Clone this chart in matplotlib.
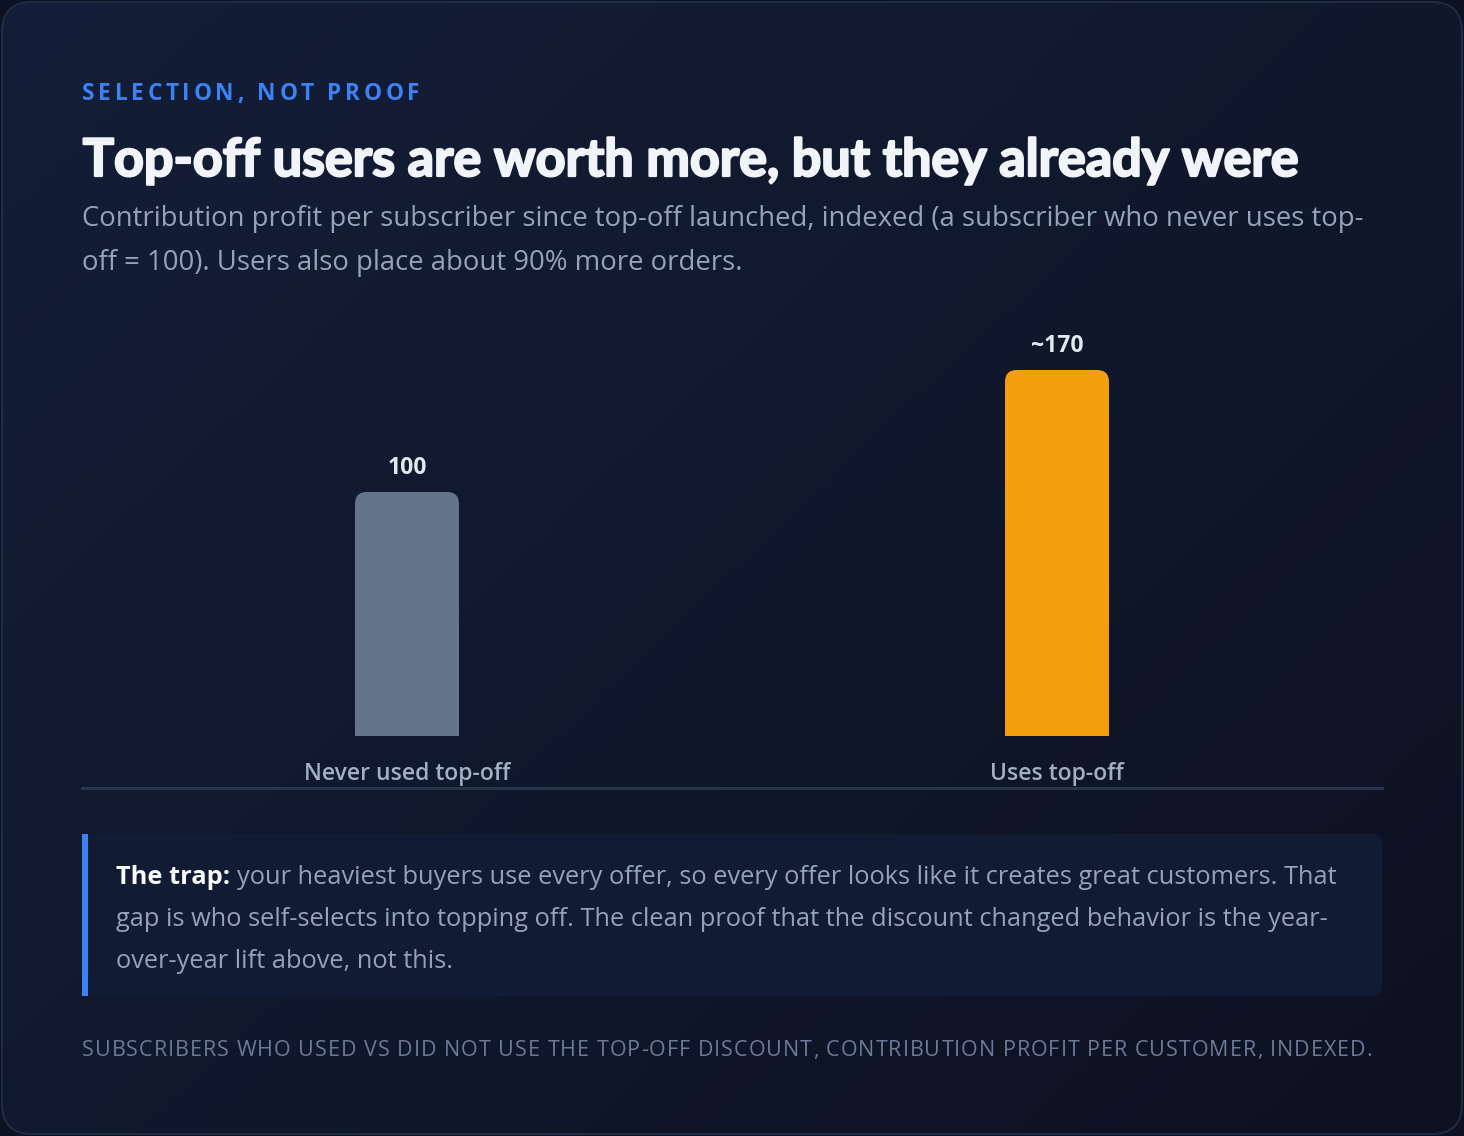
import numpy as np
import matplotlib
matplotlib.use("Agg")
import matplotlib.pyplot as plt
import matplotlib.patheffects as pe
from matplotlib.patches import FancyBboxPatch, Rectangle, PathPatch
from matplotlib.path import Path
from matplotlib.lines import Line2D

W, H = 1464, 1136

# data
categories = ["Never used top-off", "Uses top-off"]
values = [100, 170]
value_labels = ["100", "~170"]
bar_colors = ["#64748b", "#f59e0b"]

eyebrow = "SELECTION, NOT PROOF"
title = "Top-off users are worth more, but they already were"
subtitle_lines = [
    "Contribution profit per subscriber since top-off launched, indexed (a subscriber who never uses top-",
    "off = 100). Users also place about 90% more orders.",
]
callout_lead = "The trap:"
callout_lines = [
    "your heaviest buyers use every offer, so every offer looks like it creates great customers. That",
    "gap is who self-selects into topping off. The clean proof that the discount changed behavior is the year-",
    "over-year lift above, not this.",
]
footer = "SUBSCRIBERS WHO USED VS DID NOT USE THE TOP-OFF DISCOUNT, CONTRIBUTION PROFIT PER CUSTOMER, INDEXED."

plt.rcParams['font.family'] = ['Open Sans', 'DejaVu Sans']

fig = plt.figure(figsize=(W / 100, H / 100), dpi=100)
fig.patch.set_facecolor('#0c1222')
renderer = fig.canvas.get_renderer()


def fx(x):
    return x / W


def fy(y):
    return 1 - y / H


def measure(s, **kw):
    t = fig.text(0, 0, s, **kw)
    w = t.get_window_extent(renderer).width
    t.remove()
    return w


def fit(s, width, **kw):
    # font size that makes s as wide as in the reference
    return 20 * width / measure(s, size=20, **kw)


def spaced(x, y, s, gap, **kw):
    for i, ch in enumerate(s):
        if ch == " ":
            continue
        x0 = measure(s[:i + 1], **kw) - measure(ch, **kw) + i * gap
        fig.text(fx(x + x0), fy(y), ch, va='baseline', **kw)


# background card with gradient
bg = fig.add_axes([0, 0, 1, 1])
bg.axis('off')
yy, xx = np.mgrid[0:1:200j, 0:1:260j]
t = np.clip(xx * 0.55 + yy * 0.45, 0, 1)
c0 = np.array([20, 30, 56]) / 255
c1 = np.array([13, 18, 33]) / 255
img = c0 + (c1 - c0) * t[..., None]
card = FancyBboxPatch((2, 2), W - 4, H - 4, boxstyle="round,pad=0,rounding_size=30",
                      fc='none', ec='#1f2a44', lw=1.5, zorder=3)
bg.add_patch(card)
im = bg.imshow(img, extent=[0, W, H, 0], aspect='auto', zorder=0)
im.set_clip_path(card)
bg.set_xlim(0, W)
bg.set_ylim(H, 0)

# callout box
box = FancyBboxPatch((82, 834), 1300, 162, boxstyle="round,pad=0,rounding_size=10",
                     fc='#111b33', ec='none', zorder=1)
bg.add_patch(box)
bg.add_patch(Rectangle((82, 834), 6, 162, fc='#3b82f6', ec='none', zorder=2))

# headline texts
spaced(82, 100, eyebrow, 3.7, size=16.3, weight='bold', color='#3b82f6')
tfont = dict(weight='bold', family=['Lato', 'DejaVu Sans'])
fig.text(fx(82) + 0.8 / W, fy(176), title, va='baseline', color='#f1f5f9',
         size=fit(title, 1216, **tfont), **tfont,
         path_effects=[pe.withStroke(linewidth=1.6, foreground='#f1f5f9')])
sub_size = fit(subtitle_lines[0], 1278)
for i, line in enumerate(subtitle_lines):
    fig.text(fx(82), fy(226 + 44 * i), line, va='baseline', size=sub_size, color='#94a3b8')

# bars
floor = -40
ax = fig.add_axes([fx(82), fy(736), 1300 / W, 436 / H])
ax.patch.set_alpha(0)
bars = ax.bar(range(len(values)), np.array(values) - floor, bottom=floor, width=0.16,
              color=bar_colors)
ax.set_xlim(-0.5, 1.5)
ax.set_ylim(floor, floor + 436 / (366 / 210))
for side in ax.spines.values():
    side.set_visible(False)
ax.set_yticks([])
ax.set_xticks(range(len(categories)), categories)
ax.tick_params(axis='x', length=0, pad=19, labelsize=16.5, labelcolor='#a3b0c4')
for lab in ax.get_xticklabels():
    lab.set_fontweight('semibold')

# rounded tops
rx = 12 * 2 / 1300
ry = 12 * 210 / 366
for b in bars:
    x0, y0, w, h = b.get_x(), b.get_y(), b.get_width(), b.get_height()
    x1, y1 = x0 + w, y0 + h
    verts = [(x0, y0), (x0, y1 - ry), (x0, y1), (x0 + rx, y1), (x1 - rx, y1),
             (x1, y1), (x1, y1 - ry), (x1, y0), (x0, y0)]
    codes = [Path.MOVETO, Path.LINETO, Path.CURVE3, Path.CURVE3, Path.LINETO,
             Path.CURVE3, Path.CURVE3, Path.LINETO, Path.CLOSEPOLY]
    ax.add_patch(PathPatch(Path(verts, codes), fc=b.get_facecolor(), ec='none'))
    b.set_visible(False)

for i, (v, lbl) in enumerate(zip(values, value_labels)):
    ax.annotate(lbl, (i, v), xytext=(0, 13), textcoords='offset points', ha='center',
                va='baseline', size=16.5, weight='bold', color='#e2e8f0')

fig.add_artist(Line2D([fx(82), fx(1382)], [fy(788), fy(788)], color='#28344d', lw=2.2))

# callout text
lead_size = fit(callout_lines[0], 1100)
fig.text(fx(116), fy(884), callout_lead, va='baseline', size=lead_size, weight='bold',
         color='#f8fafc')
lead_w = measure(callout_lead + " ", size=lead_size, weight='bold')
fig.text(fx(116) + lead_w / W, fy(884), callout_lines[0], va='baseline',
         size=lead_size, color='#94a3b8')
for i, line in enumerate(callout_lines[1:], start=1):
    fig.text(fx(116), fy(884 + 42 * i), line, va='baseline', size=lead_size, color='#94a3b8')

gap = 1.0
spaced(82, 1056, footer, gap, size=fit(footer, 1290 - gap * (len(footer) - 1)),
       color='#6b7a96')

fig.savefig("out.png", dpi=100, facecolor=fig.get_facecolor())
